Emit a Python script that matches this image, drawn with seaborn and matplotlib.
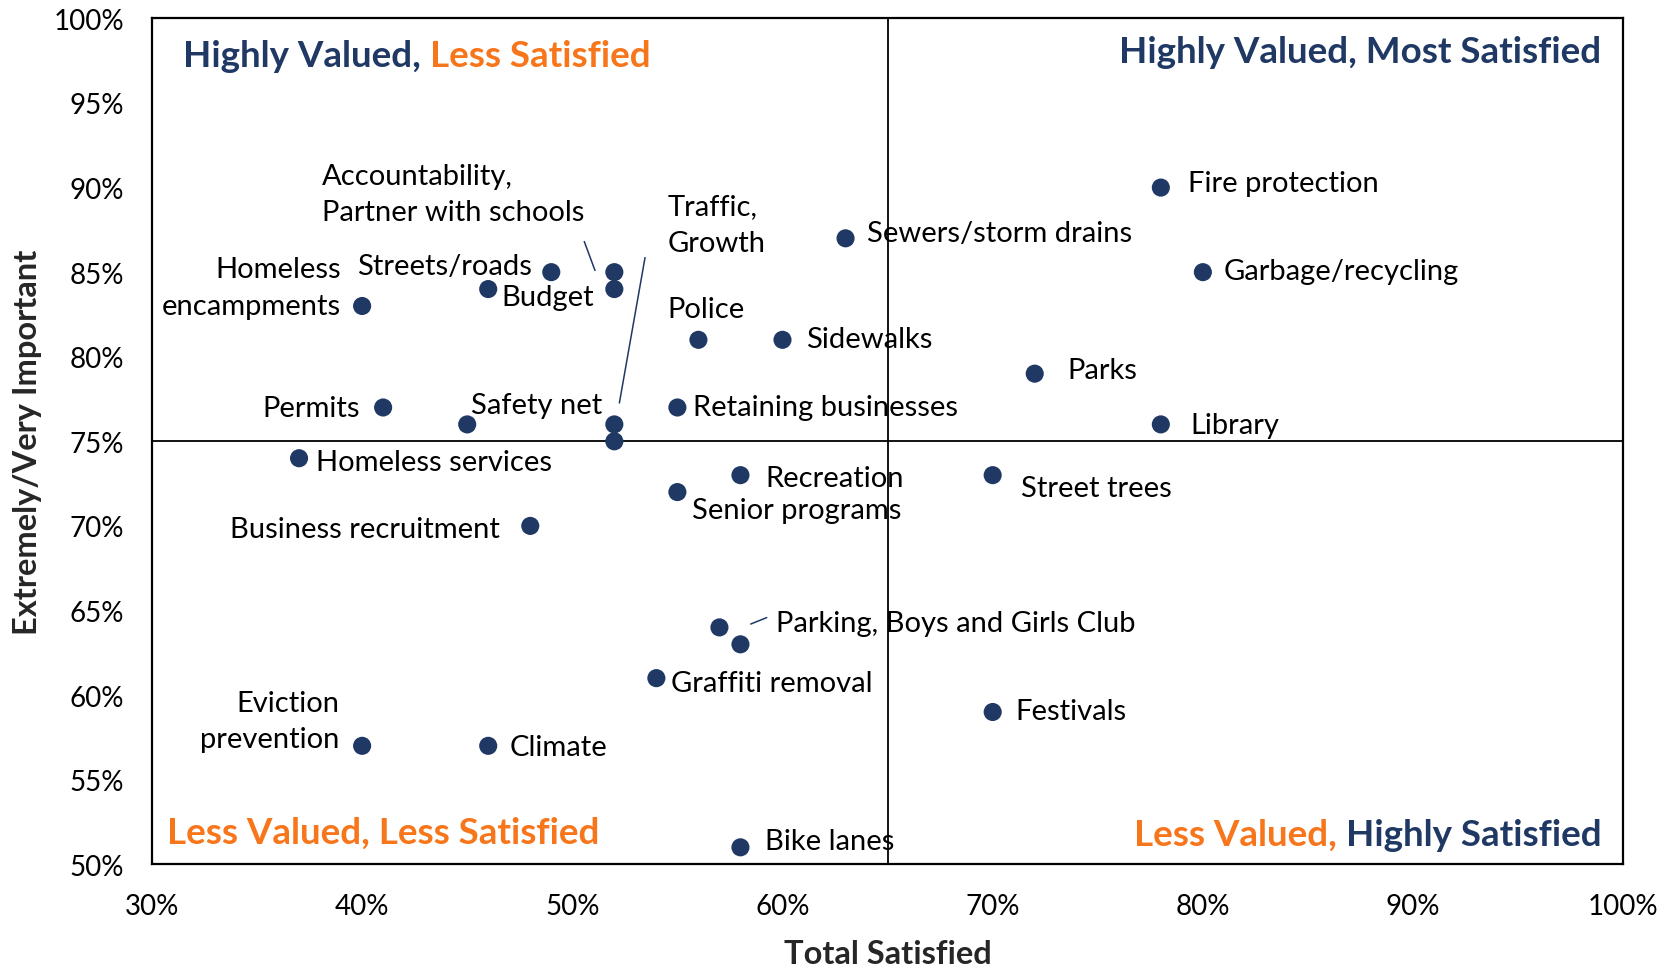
import matplotlib
matplotlib.use("Agg")
import matplotlib.pyplot as plt
import seaborn as sns
import pandas as pd
from matplotlib.ticker import FuncFormatter

# ---- data ----
items = ["Fire protection", "Sewers/storm drains", "Garbage/recycling", "Parks", "Library",
         "Street trees", "Festivals", "Sidewalks", "Police", "Retaining businesses",
         "Recreation", "Senior programs", "Parking", "Boys and Girls Club", "Graffiti removal",
         "Bike lanes", "Climate", "Eviction prevention", "Business recruitment",
         "Homeless services", "Permits", "Safety net", "Homeless encampments",
         "Streets/roads", "Budget", "Accountability", "Partner with schools",
         "Traffic", "Growth"]
satisfied = [78, 63, 80, 72, 78, 70, 70, 60, 56, 55, 58, 55, 57, 58, 54, 58, 46, 40, 48,
             37, 41, 45, 40, 49, 46, 52, 52, 52, 52]
important = [90, 87, 85, 79, 76, 73, 59, 81, 81, 77, 73, 72, 64, 63, 61, 51, 57, 57, 70,
             74, 77, 76, 83, 85, 84, 85, 84, 76, 75]

x_ticks = [30, 40, 50, 60, 70, 80, 90, 100]
y_ticks = [50, 55, 60, 65, 70, 75, 80, 85, 90, 95, 100]
x_mid, y_mid = 65, 75

df = pd.DataFrame({"item": items, "sat": satisfied, "imp": important})

NAVY = "#1F3864"
ORANGE = "#F7761B"

sns.set_theme(style="white")
plt.rcParams["font.family"] = ["Lato", "DejaVu Sans"]

fig = plt.figure(figsize=(16.75, 9.70), dpi=100)
ax = fig.add_axes([0.0907, 0.108, 0.8784, 0.872])

sns.scatterplot(data=df, x="sat", y="imp", ax=ax, color=NAVY, s=170,
                edgecolor="none", zorder=3)

ax.set_xlim(x_ticks[0], x_ticks[-1])
ax.set_ylim(y_ticks[0], y_ticks[-1])
ax.set_xticks(x_ticks)
ax.set_yticks(y_ticks)
pct = FuncFormatter(lambda v, p: f"{v:.0f}%")
ax.xaxis.set_major_formatter(pct)
ax.yaxis.set_major_formatter(pct)
ax.tick_params(axis="both", length=0, labelsize=20, colors="black")
ax.tick_params(axis="x", pad=21)
ax.tick_params(axis="y", pad=20)
for sp in ax.spines.values():
    sp.set_color("black")
    sp.set_linewidth(1.6)

ax.axvline(x_mid, color="black", lw=1.3, zorder=1)
ax.axhline(y_mid, color="black", lw=1.3, zorder=1)

ax.set_xlabel("Total Satisfied", fontsize=23.5, fontweight="bold", labelpad=14)
ax.set_ylabel("Extremely/Very Important", fontsize=23.5, fontweight="bold", labelpad=8)

LFS = 21
def lab(txt, x, y, ha="left", va="center"):
    ax.text(x, y, txt, ha=ha, va=va, fontsize=LFS, color="black",
            multialignment=ha, linespacing=1.5, zorder=4)

lab("Fire protection", 79.27, 90.28)
lab("Sewers/storm drains", 64.03, 87.31)
lab("Garbage/recycling", 80.99, 85.04)
lab("Parks", 73.57, 79.23)
lab("Library", 79.42, 75.95)
lab("Street trees", 71.34, 72.22)
lab("Festivals", 71.09, 59.03)
lab("Sidewalks", 61.13, 81.06)
lab("Police", 54.53, 82.83)
lab("Retaining businesses", 55.75, 77.02)
lab("Recreation", 59.2, 72.85)
lab("Senior programs", 55.70, 70.96)
lab("Parking, Boys and Girls Club", 59.71, 64.27)
lab("Graffiti removal", 54.68, 60.73)
lab("Bike lanes", 59.15, 51.39)
lab("Climate", 47.01, 56.94)
lab("Eviction\nprevention", 38.94, 58.46, ha="right")
lab("Business recruitment", 46.56, 69.82, ha="right")
lab("Homeless services", 37.82, 73.80)
lab("Permits", 39.90, 76.96, ha="right")
lab("Safety net", 45.19, 77.15)
lab("Homeless\nencampments", 38.99, 84.09, ha="right")
lab("Streets/roads", 48.08, 85.35, ha="right")
lab("Budget", 46.61, 83.52)
lab("Accountability,\nPartner with schools", 38.07, 89.61)
lab("Traffic,\nGrowth", 54.53, 87.82)

# leader lines
for (x0, y0), (x1, y1) in [((50.57, 86.81), (51.08, 85.10)),
                           ((53.46, 85.86), (52.24, 77.27)),
                           ((58.49, 64.20), (59.25, 64.58))]:
    ax.plot([x0, x1], [y0, y1], color=NAVY, lw=1.1, zorder=2)

# quadrant titles
QFS = 26.5
t1 = ax.text(0.021, 0.956, "Highly Valued, ", transform=ax.transAxes, ha="left",
             va="center", fontsize=QFS, fontweight="bold", color=NAVY)
ax.annotate("Less Satisfied", xy=(1, 0), xycoords=t1, ha="left", va="bottom",
            fontsize=QFS, fontweight="bold", color=ORANGE)

ax.text(0.985, 0.961, "Highly Valued, Most Satisfied", transform=ax.transAxes,
        ha="right", va="center", fontsize=QFS, fontweight="bold", color=NAVY)

ax.text(0.0102, 0.038, "Less Valued, Less Satisfied", transform=ax.transAxes,
        ha="left", va="center", fontsize=QFS, fontweight="bold", color=ORANGE)

t4 = ax.text(0.985, 0.0356, "Highly Satisfied", transform=ax.transAxes, ha="right",
             va="center", fontsize=QFS, fontweight="bold", color=NAVY)
ax.annotate("Less Valued, ", xy=(0, 0), xycoords=t4, ha="right", va="bottom",
            fontsize=QFS, fontweight="bold", color=ORANGE)

fig.savefig("out.png", dpi=100)
